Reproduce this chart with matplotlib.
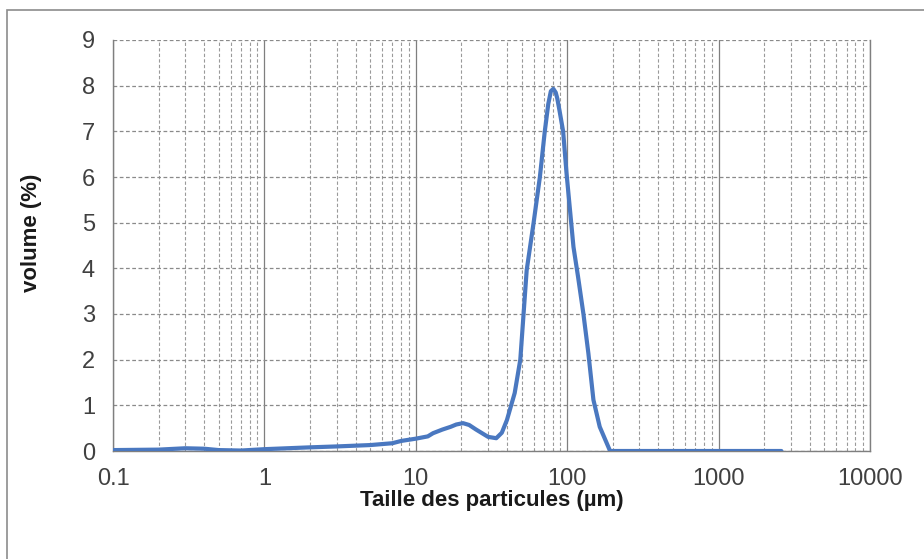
import matplotlib.pyplot as plt
from matplotlib.patches import Rectangle
from matplotlib.ticker import LogLocator, FixedLocator, NullFormatter

plt.rcParams['font.family'] = ['Liberation Sans', 'DejaVu Sans']

# particle size distribution (µm, volume %)
size_um = [0.1, 0.2, 0.3, 0.4, 0.5, 0.7, 1, 2, 3, 5, 7, 8, 10, 12, 13,
           15, 17, 18.5, 20.5, 22.5, 25, 30, 34, 37, 40, 45, 49, 51.5, 54,
           60, 66, 71, 75, 78, 81, 84, 86, 89, 94, 99, 110, 118, 128, 138,
           149, 164, 192, 500, 1000, 2600]
volume_pct = [0.02, 0.03, 0.06, 0.05, 0.02, 0.01, 0.04, 0.08, 0.1, 0.13, 0.17,
              0.22, 0.27, 0.32, 0.39, 0.47, 0.53, 0.58, 0.61, 0.57, 0.47, 0.31,
              0.28, 0.4, 0.68, 1.27, 2.0, 3.0, 3.96, 5.0, 6.0, 6.98, 7.6,
              7.88, 7.93, 7.85, 7.72, 7.45, 7.0, 6.08, 4.47, 3.81, 3.0, 2.14,
              1.12, 0.53, 0.0, 0.0, 0.0, 0.0]

x_ticks = [0.1, 1, 10, 100, 1000, 10000]
x_labels = ['0.1', '1', '10', '100', '1000', '10000']
y_ticks = list(range(0, 10))

fig = plt.figure(figsize=(9.24, 5.59), dpi=100)
ax = fig.add_axes([113 / 924, 1 - 451 / 559, 757 / 924, 411 / 559])

# thin grey frame around the whole chart
fig.patches.append(Rectangle((7 / 924, -0.1), 1.2, 1 - 10 / 559 + 0.1,
                             transform=fig.transFigure, fill=False,
                             edgecolor='#8c8c8c', linewidth=1.2))

ax.plot(size_um, volume_pct, color='#4a78c0', linewidth=3.0,
        solid_joinstyle='round', solid_capstyle='round', zorder=3)

ax.set_xscale('log')
ax.set_xlim(0.1, 10000)
ax.set_ylim(0, 9)
ax.xaxis.set_major_locator(FixedLocator(x_ticks))
ax.set_xticklabels(x_labels)
ax.xaxis.set_minor_locator(LogLocator(base=10, subs=range(2, 10), numticks=20))
ax.xaxis.set_minor_formatter(NullFormatter())
ax.set_yticks(y_ticks)

ax.grid(True, which='major', axis='x', color='#7f7f7f', linewidth=0.9, linestyle='-')
ax.grid(True, which='minor', axis='x', color='#9a9a9a', linewidth=0.8, linestyle=(0, (3, 2)))
ax.grid(True, which='major', axis='y', color='#8a8a8a', linewidth=0.9, linestyle=(0, (3, 2)))
ax.set_axisbelow(True)

ax.tick_params(axis='both', which='both', length=0, labelsize=17, labelcolor='#404040')
ax.tick_params(axis='x', pad=12)
ax.tick_params(axis='y', pad=13)

for side in ['left', 'bottom', 'right']:
    ax.spines[side].set_color('#7f7f7f')
    ax.spines[side].set_linewidth(1.0)
ax.spines['top'].set_visible(False)

ax.set_xlabel('Taille des particules (µm)', fontsize=16, fontweight='bold',
              color='#1a1a1a', labelpad=0)
ax.set_ylabel('volume (%)', fontsize=16, fontweight='bold', color='#1a1a1a')
ax.yaxis.set_label_coords(-0.094, 0.53)

fig.savefig('out.png', dpi=100, facecolor='white')
